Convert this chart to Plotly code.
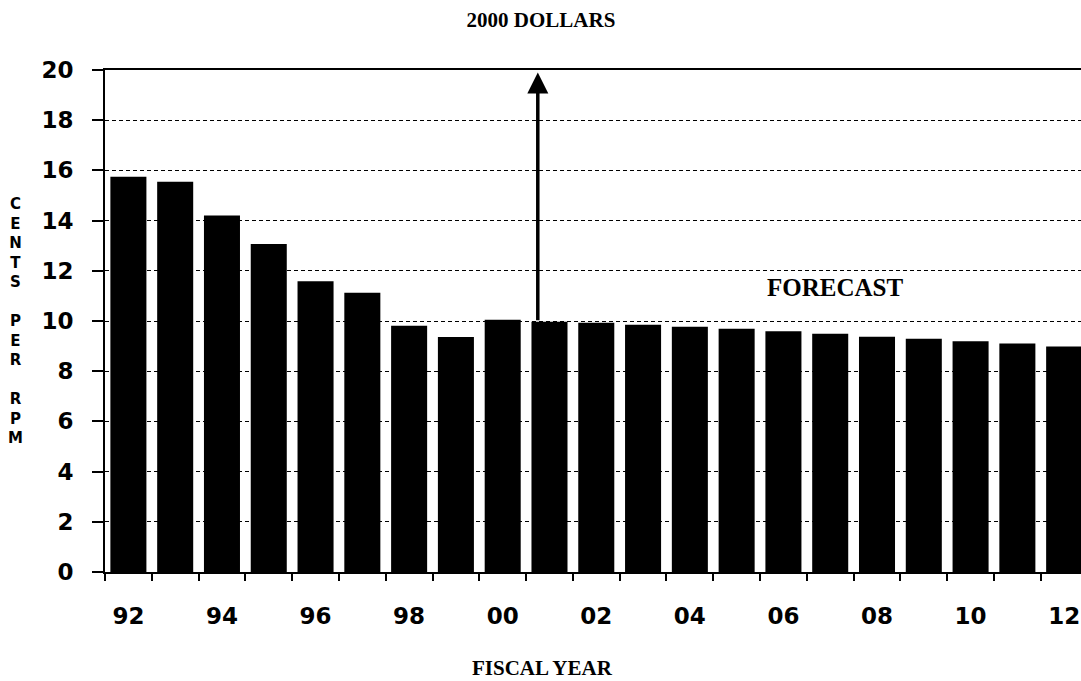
import plotly.graph_objects as go

# ---- data ----
years = ["92", "93", "94", "95", "96", "97", "98", "99", "00", "01", "02",
         "03", "04", "05", "06", "07", "08", "09", "10", "11", "12"]
cents_per_rpm = [15.75, 15.55, 14.2, 13.07, 11.58, 11.13, 9.81, 9.36, 10.05, 9.97, 9.93,
                 9.85, 9.77, 9.69, 9.59, 9.49, 9.37, 9.29, 9.19, 9.10, 8.98]
y_ticks = [0, 2, 4, 6, 8, 10, 12, 14, 16, 18, 20]
x_label_years = years[::2]

title_text = "2000 DOLLARS"
x_title = "FISCAL YEAR"
y_title_letters = ["C", "E", "N", "T", "S", "", "P", "E", "R", "", "R", "P", "M"]
forecast_text = "FORECAST"
forecast_start = "01"

xs = list(range(len(years)))
idx_forecast = years.index(forecast_start)

sans = "DejaVu Sans"
serif = "Liberation Serif"

W, H = 1081, 681

fig = go.Figure()
fig.add_trace(go.Bar(
    x=xs, y=cents_per_rpm, width=0.77,
    marker=dict(color="black", line=dict(width=0)),
    hoverinfo="skip",
))

fig.update_layout(
    width=W, height=H,
    paper_bgcolor="white", plot_bgcolor="white",
    margin=dict(l=105, r=0, t=70, b=109, autoexpand=False),
    showlegend=False,
    title=dict(text=title_text, x=541 / W, xanchor="center", y=1 - 20 / H, yanchor="middle",
               font=dict(family=serif, size=21, color="black", weight="bold")),
    xaxis=dict(
        range=[-0.5, 20.36], automargin=False,
        tickmode="array", tickvals=[xs[i] for i in range(0, len(years), 2)],
        ticktext=x_label_years,
        ticks="", ticklabelstandoff=22, ticklabeloverflow="allow",
        tickfont=dict(family=sans, size=23, color="black", weight="bold"),
        showline=True, linecolor="black", linewidth=2, mirror=True,
        showgrid=False, zeroline=False,
        minor=dict(tick0=-0.5, dtick=1, ticks="outside", ticklen=7, tickcolor="black",
                   tickwidth=1.5, showgrid=False),
    ),
    yaxis=dict(
        range=[0, 20], automargin=False, tickmode="array", tickvals=y_ticks,
        ticks="outside", ticklen=11, tickcolor="black", tickwidth=1.5,
        ticklabelstandoff=14,
        tickfont=dict(family=sans, size=23, color="black", weight="bold"),
        showline=True, linecolor="black", linewidth=2,
        showgrid=True, gridcolor="black", gridwidth=1, griddash="4px,3px",
        zeroline=False,
    ),
    annotations=[
        dict(text="<br>".join(y_title_letters), xref="paper", yref="paper",
             x=(15 - 105) / 976, y=0.5, xanchor="center", yanchor="middle", showarrow=False,
             font=dict(family=sans, size=15, color="black", weight="bold")),
        dict(text=x_title, xref="paper", yref="paper", x=(542 - 105) / 976, y=-96 / 502,
             xanchor="center", yanchor="middle", showarrow=False,
             font=dict(family=serif, size=21, color="black", weight="bold")),
        dict(text=forecast_text, xref="x", yref="y", x=15.1, y=11.35,
             xanchor="center", yanchor="middle", showarrow=False,
             font=dict(family=serif, size=25, color="black", weight="bold")),
        dict(text="", xref="x", yref="y", x=idx_forecast - 0.25, y=19.9,
             axref="x", ayref="y", ax=idx_forecast - 0.25, ay=cents_per_rpm[idx_forecast],
             showarrow=True, arrowhead=2, arrowsize=1.2, arrowwidth=3.5, arrowcolor="black"),
    ],
)

fig.write_html(
    "out.html",
    config={"displayModeBar": False},
    post_script="document.body.style.margin='0';document.body.style.overflow='hidden';",
)
